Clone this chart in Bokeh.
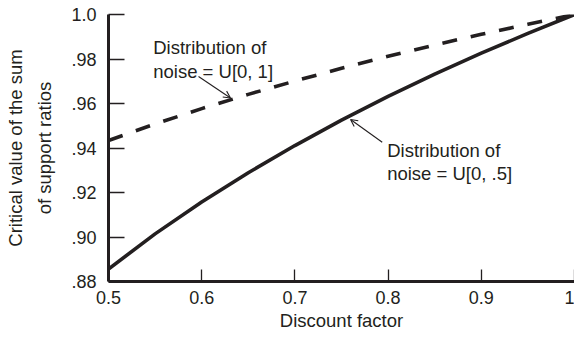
from bokeh.plotting import figure
from bokeh.models import FixedTicker, Label, Arrow, OpenHead
from bokeh.embed import file_html
from bokeh.resources import INLINE

# ---- data ----
discount = [0.50, 0.55, 0.60, 0.65, 0.70, 0.75, 0.80, 0.85, 0.90, 0.95, 1.00]
noise_u01 = [0.9434, 0.9508, 0.9577, 0.9641, 0.9701, 0.9758, 0.9812, 0.9863, 0.9911, 0.9956, 1.0000]
noise_u005 = [0.8856, 0.9014, 0.9157, 0.9289, 0.9411, 0.9525, 0.9632, 0.9732, 0.9826, 0.9915, 1.0000]

x_ticks = [0.5, 0.6, 0.7, 0.8, 0.9, 1.0]
x_tick_labels = ["0.5", "0.6", "0.7", "0.8", "0.9", "1"]
y_ticks = [0.88, 0.90, 0.92, 0.94, 0.96, 0.98, 1.0]
y_tick_labels = [".88", ".90", ".92", ".94", ".96", ".98", "1.0"]

ann1_lines = ["Distribution of", "noise = U[0, 1]"]
ann2_lines = ["Distribution of", "noise = U[0, .5]"]

FONT = "Liberation Sans"
INK = "#231f20"

p = figure(width=574, height=339, x_range=(0.5, 1.0), y_range=(0.88, 1.0),
           output_backend="svg", toolbar_location=None,
           min_border_left=108, min_border_right=0, min_border_top=14, min_border_bottom=58)
p.outline_line_color = None
p.grid.grid_line_color = None
p.background_fill_color = "white"
p.border_fill_color = "white"

p.line(discount, noise_u005, line_color=INK, line_width=3.6)
p.line(discount, noise_u01, line_color=INK, line_width=3.6, line_dash="15 14")

for ax in (p.xaxis[0], p.yaxis[0]):
    ax.axis_line_width = 3
    ax.axis_line_color = INK
    ax.major_tick_line_color = INK
    ax.major_tick_line_width = 1.3
    ax.minor_tick_line_color = None
    ax.major_tick_out = 0
    ax.major_label_text_font = FONT
    ax.major_label_text_font_size = "18px"
    ax.major_label_text_color = INK
    ax.axis_label_text_font = FONT
    ax.axis_label_text_font_size = "18.5px"
    ax.axis_label_text_font_style = "normal"
    ax.axis_label_text_color = INK

p.xaxis[0].ticker = FixedTicker(ticks=x_ticks)
p.xaxis[0].major_label_overrides = dict(zip(x_ticks, x_tick_labels))
p.xaxis[0].major_tick_in = 12
p.xaxis[0].major_label_standoff = 9
p.xaxis[0].axis_label = "Discount factor"
p.xaxis[0].axis_label_standoff = 3

p.yaxis[0].ticker = FixedTicker(ticks=y_ticks)
p.yaxis[0].major_label_overrides = dict(zip(y_ticks, y_tick_labels))
p.yaxis[0].major_tick_in = 16
p.yaxis[0].major_label_standoff = 12
p.yaxis[0].axis_label = "Critical value of the sum\nof support ratios"
p.yaxis[0].axis_label_standoff = 13
p.yaxis[0].axis_label_text_line_height = 1.4

# annotations
for i, t in enumerate(ann1_lines):
    p.add_layout(Label(x=0.548, y=0.9852 - i * 0.0106, text=t, text_font=FONT,
                       text_font_size="18.5px", text_color=INK, text_baseline="middle"))
for i, t in enumerate(ann2_lines):
    p.add_layout(Label(x=0.799, y=0.9390 - i * 0.0106, text=t, text_font=FONT,
                       text_font_size="18.5px", text_color=INK, text_baseline="middle"))

p.add_layout(Arrow(x_start=0.5966, y_start=0.9721, x_end=0.6309, y_end=0.9625,
                   line_color=INK, line_width=1.1,
                   end=OpenHead(size=7, line_color=INK, line_width=1.1)))
p.add_layout(Arrow(x_start=0.7937, y_start=0.9426, x_end=0.7597, y_end=0.9528,
                   line_color=INK, line_width=1.1,
                   end=OpenHead(size=7, line_color=INK, line_width=1.1)))

open("out.html", "w").write(file_html(p, INLINE))
